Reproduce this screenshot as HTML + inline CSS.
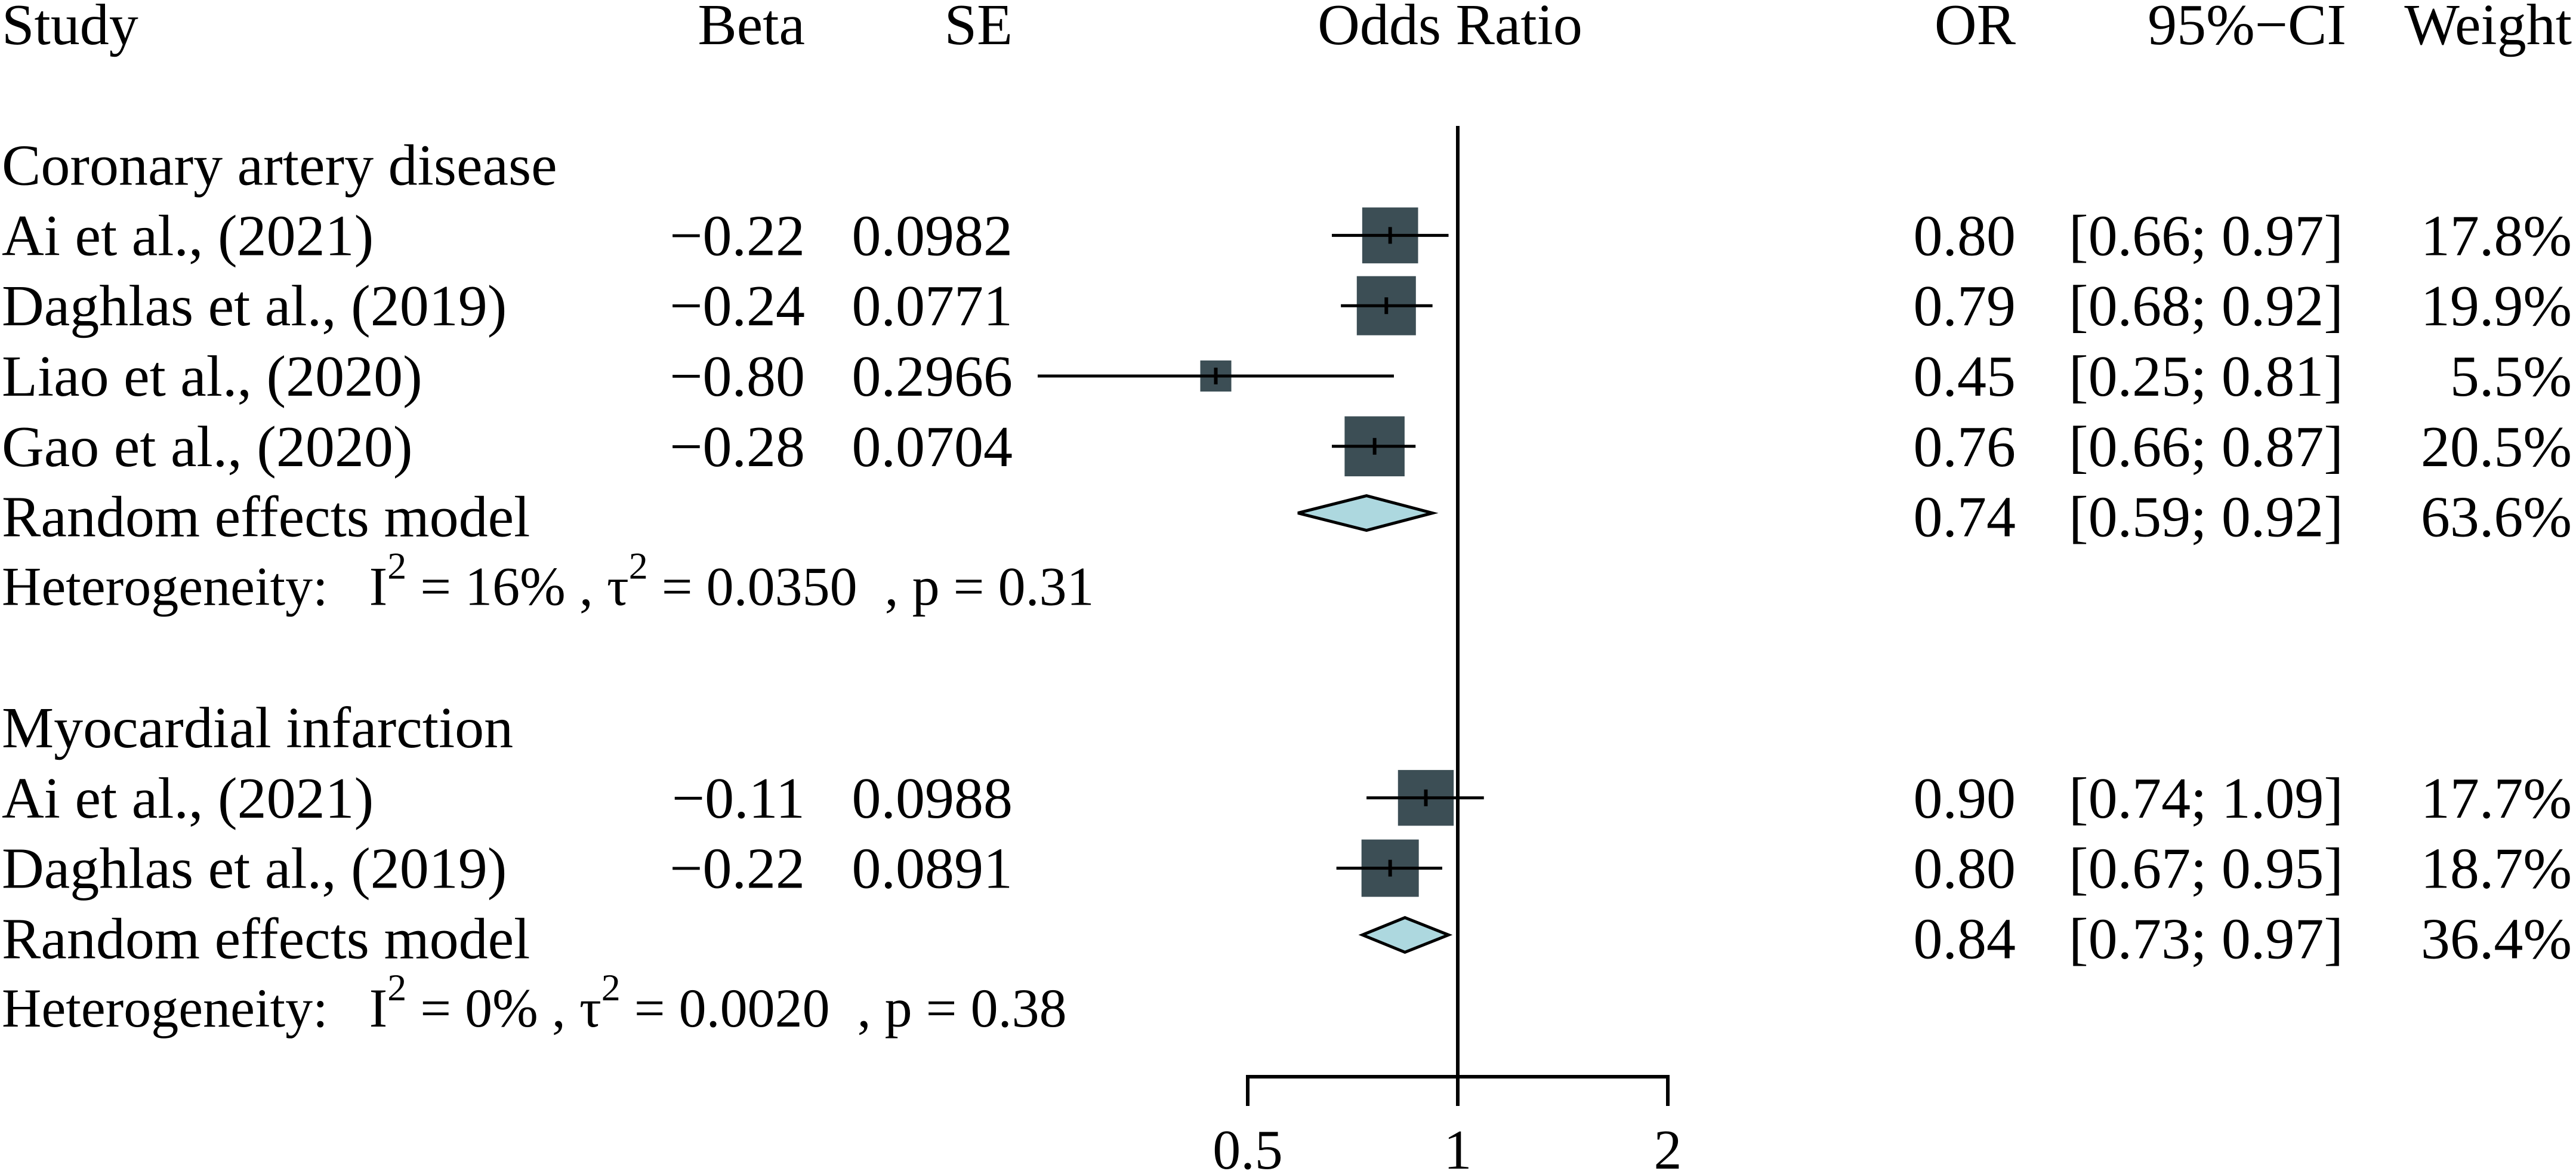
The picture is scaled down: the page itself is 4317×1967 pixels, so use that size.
<!DOCTYPE html>
<html><head><meta charset="utf-8"><style>
html,body{margin:0;padding:0;background:#fff}
svg{display:block}
text{font-family:"Liberation Serif",serif;fill:#000;white-space:pre}
</style></head><body>
<svg id="c" width="4317" height="1967" viewBox="0 0 4317 1967" xmlns="http://www.w3.org/2000/svg"></svg>
<script>
const studies = ["Ai et al., (2021)","Daghlas et al., (2019)","Liao et al., (2020)","Gao et al., (2020)","Ai et al., (2021)","Daghlas et al., (2019)"];
const betas = ["\u22120.22","\u22120.24","\u22120.80","\u22120.28","\u22120.11","\u22120.22"];
const ses = ["0.0982","0.0771","0.2966","0.0704","0.0988","0.0891"];
const ors = [0.80,0.79,0.45,0.76,0.90,0.80];
const lows = [0.66,0.68,0.25,0.66,0.74,0.67];
const highs = [0.97,0.92,0.81,0.87,1.09,0.95];
const weights = [17.8,19.9,5.5,20.5,17.7,18.7];
const studyRows = [3,4,5,6,11,12];
const groups = ["Coronary artery disease","Myocardial infarction"];
const groupRows = [2,10];
const poolOr = [0.74,0.84];
const poolLow = [0.59,0.73];
const poolHigh = [0.92,0.97];
const poolW = [63.6,36.4];
const poolRows = [7,13];
const hetI2 = ["16%","0%"];
const hetTau2 = ["0.0350","0.0020"];
const hetP = ["0.31","0.38"];
const hetRows = [8,14];
const ticks = [0.5,1,2];
const tickLabels = ["0.5","1","2"];

const svg = document.getElementById('c');
const NS = 'http://www.w3.org/2000/svg';
const X1 = 2443, PX = 352;
function xs(v){ return X1 + PX*Math.log2(v); }
function ys(r){ return 41 + r*117.8; }
function mk(tag, at, parent){ const e=document.createElementNS(NS,tag); for(const k in at) e.setAttribute(k,at[k]); (parent||svg).appendChild(e); return e; }
function txt(s, x, y, anchor, size, name){
  const t = mk('text',{x:x,y:y,'text-anchor':anchor||'start','font-size':size||98});
  t.textContent = s;
  
  
  return t;
}
const B = 33;
const F = 98;
txt("Study",3,ys(0)+B,'start',F,'header-study');
txt("Beta",1349,ys(0)+B,'end',F,'header-beta');
txt("SE",1697,ys(0)+B,'end',F,'header-se');
txt("Odds Ratio",2430,ys(0)+B,'middle',F,'header-odds-ratio');
txt("OR",3378,ys(0)+B,'end',F,'header-or');
txt("95%\u2212CI",3932,ys(0)+B,'end',F,'header-ci');
txt("Weight",4310,ys(0)+B,'end',F,'header-weight');

const ref = mk('line',{x1:xs(1),x2:xs(1),y1:211,y2:1804,stroke:'#000','stroke-width':6});


const ax = mk('line',{x1:xs(ticks[0]),x2:xs(ticks[ticks.length-1]),y1:1804,y2:1804,stroke:'#000','stroke-width':6});


ticks.forEach((t,i)=>{
  const l = mk('line',{x1:xs(t),x2:xs(t),y1:1801,y2:1853,stroke:'#000','stroke-width':6});
  
  
  txt(tickLabels[i],xs(t),1958,'middle',94,'x-tick-label');
});

groups.forEach((g,i)=>{ txt(g,3,ys(groupRows[i])+B,'start',F,'group-label'); });

studies.forEach((s,i)=>{
  const y = ys(studyRows[i]);
  txt(s,3,y+B,'start',F,'study-name');
  txt(betas[i],1349,y+B,'end',F,'beta-value');
  txt(ses[i],1697,y+B,'end',F,'se-value');
  txt(ors[i].toFixed(2),3378,y+B,'end',F,'or-value');
  txt('['+lows[i].toFixed(2)+'; '+highs[i].toFixed(2)+']',3927,y+B,'end',F,'ci-value');
  txt(weights[i].toFixed(1)+'%',4310,y+B,'end',F,'weight-value');
  const sz = 22.2*Math.sqrt(weights[i]);
  const r = mk('rect',{x:xs(ors[i])-sz/2,y:y-sz/2,width:sz,height:sz,fill:'#3c4e55'});
  
  
  const c = mk('line',{x1:xs(lows[i]),x2:xs(highs[i]),y1:y,y2:y,stroke:'#000','stroke-width':5});
  
  
  const m = mk('line',{x1:xs(ors[i]),x2:xs(ors[i]),y1:y-14,y2:y+14,stroke:'#000','stroke-width':6});
  
  
});

poolRows.forEach((row,i)=>{
  const y = ys(row);
  txt("Random effects model",3,y+B,'start',F,'pooled-label');
  txt(poolOr[i].toFixed(2),3378,y+B,'end',F,'pooled-or');
  txt('['+poolLow[i].toFixed(2)+'; '+poolHigh[i].toFixed(2)+']',3927,y+B,'end',F,'pooled-ci');
  txt(poolW[i].toFixed(1)+'%',4310,y+B,'end',F,'pooled-weight');
  const yd = y-6;
  const p = mk('polygon',{points:[xs(poolLow[i])+','+yd, xs(poolOr[i])+','+(yd-29), xs(poolHigh[i])+','+yd, xs(poolOr[i])+','+(yd+29)].join(' '),fill:'#add8df',stroke:'#000','stroke-width':5});
  
  
});

hetRows.forEach((row,i)=>{
  const y = ys(row)+30;
  const t = mk('text',{x:3,y:y,'font-size':92});
  
  
  const parts = [["Heterogeneity:\u00a0\u00a0\u00a0I",0],["2",1],["\u00a0=\u00a0"+hetI2[i]+"\u00a0,\u00a0\u03c4",0],["2",1],["\u00a0=\u00a0"+hetTau2[i]+"\u00a0\u00a0,\u00a0p\u00a0=\u00a0"+hetP[i],0]];
  parts.forEach(([s,sup])=>{
    const ts = document.createElementNS(NS,'tspan');
    ts.textContent = s;
    if(sup){ ts.setAttribute('dy','-44'); ts.setAttribute('font-size','64'); }
    else if(t.childNodes.length){ ts.setAttribute('dy','44'); }
    t.appendChild(ts);
  });
});
</script>
</body></html>
